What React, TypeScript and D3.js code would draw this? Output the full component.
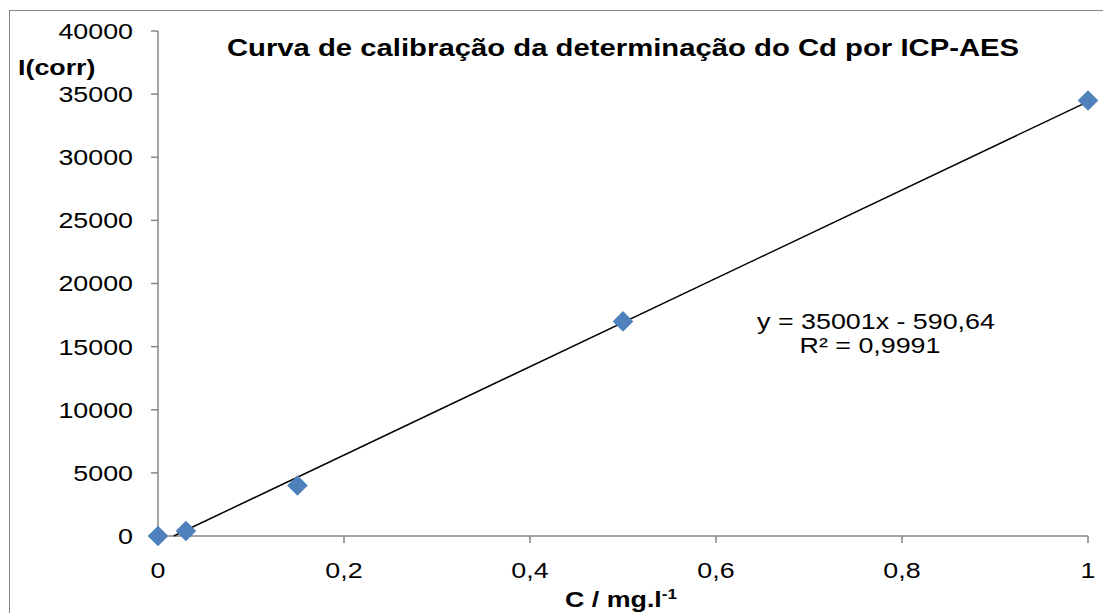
import React from "react";
import * as d3 from "d3";

const concentrations = [0, 0.03, 0.15, 0.5, 1];
const intensities = [0, 400, 4000, 17000, 34500];
const xTicks = [0, 0.2, 0.4, 0.6, 0.8, 1];
const yTicks = [0, 5000, 10000, 15000, 20000, 25000, 30000, 35000, 40000];
const slope = 35001;
const intercept = -590.64;
const title = "Curva de calibração da determinação do Cd por ICP-AES";
const equationText = "y = 35001x - 590,64";
const r2Text = "R² = 0,9991";

const W = 1103;
const H = 613;
const left = 158;
const right = 1088;
const top = 31;
const bottom = 536;
const font = "'Liberation Sans', Arial, sans-serif";
const axisColor = "#868686";
const SX = 1.22;

function T(props: {
  x: number;
  y: number;
  anchor?: "start" | "middle" | "end";
  size: number;
  bold?: boolean;
  dy?: string;
  children: React.ReactNode;
}) {
  return (
    <text
      transform={`translate(${props.x},${props.y}) scale(${SX},1)`}
      textAnchor={props.anchor || "start"}
      fontSize={props.size}
      fontWeight={props.bold ? "bold" : "normal"}
      dy={props.dy}
      fill="#000"
    >
      {props.children}
    </text>
  );
}

export default function App() {
  const x = d3.scaleLinear().domain([0, 1]).range([left, right]);
  const y = d3.scaleLinear().domain([0, 40000]).range([bottom, top]);
  const fmtX = (v: number) => String(+v.toFixed(1)).replace(".", ",");
  const x0 = -intercept / slope;
  const line = d3.line<[number, number]>().x((d) => x(d[0])).y((d) => y(d[1]));
  const trend: [number, number][] = [
    [x0, 0],
    [1, slope + intercept],
  ];
  const diamond = d3.symbol().type(d3.symbolDiamond2).size(270)();
  return (
    <svg width={W} height={H} style={{ position: "absolute", left: 0, top: 0 }} fontFamily={font}>
      <rect x={0} y={0} width={W} height={H} fill="#fff" />
      <rect x={9.5} y={10.5} width={1100} height={620} fill="none" stroke={axisColor} strokeWidth={1} />
      {/* y axis */}
      <line x1={left} x2={left} y1={top} y2={bottom} stroke={axisColor} strokeWidth={1.5} />
      {yTicks.map((t) => (
        <g key={t}>
          <line x1={left - 7} x2={left} y1={y(t)} y2={y(t)} stroke={axisColor} strokeWidth={1.5} />
          <T x={133} y={y(t)} dy="0.36em" anchor="end" size={22}>
            {t}
          </T>
        </g>
      ))}
      {/* x axis */}
      <line x1={left} x2={right} y1={bottom} y2={bottom} stroke={axisColor} strokeWidth={1.5} />
      {xTicks.map((t) => (
        <g key={t}>
          <line x1={x(t)} x2={x(t)} y1={bottom} y2={bottom + 7} stroke={axisColor} strokeWidth={1.5} />
          <T x={x(t)} y={578} anchor="middle" size={22}>
            {fmtX(t)}
          </T>
        </g>
      ))}
      {/* trendline */}
      <path d={line(trend) || ""} fill="none" stroke="#000" strokeWidth={1.5} />
      {/* points */}
      {concentrations.map((c, i) => (
        <path key={i} d={diamond || ""} transform={`translate(${x(c)},${y(intensities[i])})`} fill="#4F81BD" />
      ))}
      {/* title */}
      <T x={623} y={56} anchor="middle" size={24} bold>
        {title}
      </T>
      <T x={18} y={75} size={22} bold>
        I(corr)
      </T>
      <T x={621} y={607} anchor="middle" size={22} bold>
        C / mg.l<tspan dy={-8} fontSize={14}>-1</tspan>
      </T>
      <T x={876} y={329} anchor="middle" size={22}>
        {equationText}
      </T>
      <T x={870} y={353} anchor="middle" size={22}>
        {r2Text}
      </T>
    </svg>
  );
}
